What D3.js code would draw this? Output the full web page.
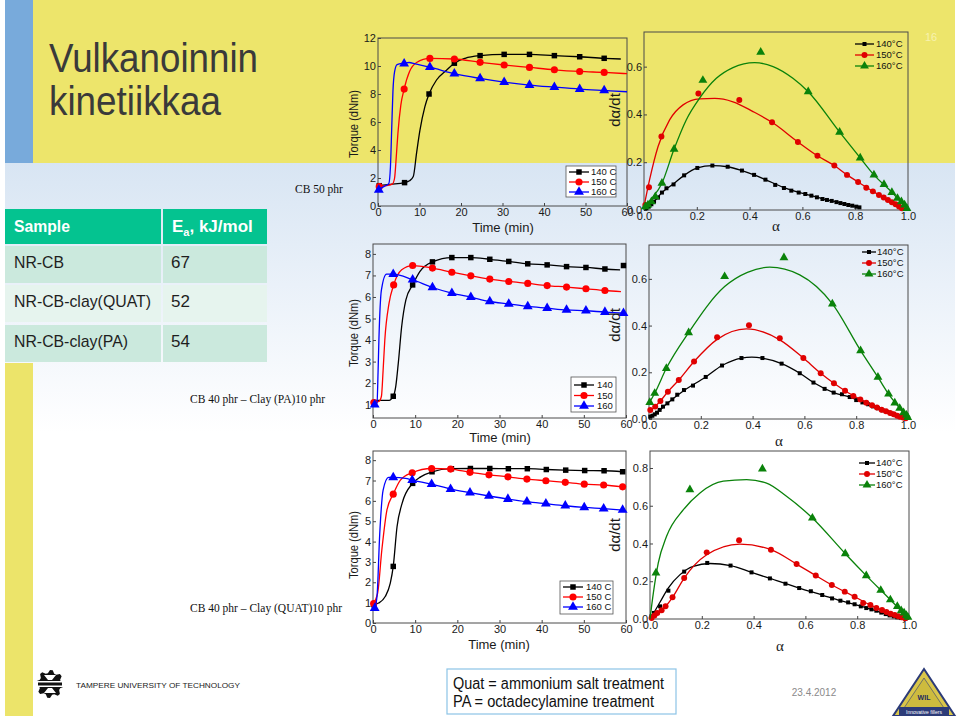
<!DOCTYPE html>
<html><head><meta charset="utf-8">
<script src="https://cdn.jsdelivr.net/npm/d3@7"></script>
<style>body{margin:0;background:#fff}svg{display:block}</style>
</head><body><svg id="s" width="960" height="716"></svg>
<script>
// ---------------- DATA ----------------
const titleLines = ["Vulkanoinnin", "kinetiikkaa"];
const tableSamples = ["NR-CB", "NR-CB-clay(QUAT)", "NR-CB-clay(PA)"];
const tableEa = ["67", "52", "54"];
const panelNotes = ["CB 50 phr", "CB 40 phr \u2013 Clay (PA)10 phr", "CB 40 phr \u2013 Clay (QUAT)10 phr"];
const footerNotes = ["Quat = ammonium salt treatment", "PA = octadecylamine treatment"];
const footerDate = "23.4.2012";
const pageNo = "16";

const timeTicks = [0, 10, 20, 30, 40, 50, 60];
const alphaTicks = [0, 0.2, 0.4, 0.6, 0.8, 1.0];
const torqueTicksCB50 = [0, 2, 4, 6, 8, 10, 12];
const torqueTicksPA = [1, 2, 3, 4, 5, 6, 7, 8];
const torqueTicksQUAT = [0, 1, 2, 3, 4, 5, 6, 7, 8];
const rateTicksCB50 = [0, 0.2, 0.4, 0.6];
const rateTicksPA = [0, 0.2, 0.4, 0.6];
const rateTicksQUAT = [0, 0.2, 0.4, 0.6, 0.8];
const torqueLegendCB50 = ["140 C", "150 C", "160 C"];
const torqueLegendPA = ["140", "150", "160"];
const torqueLegendQUAT = ["140 C", "150 C", "160 C"];
const rateLegend = ["140\u00B0C", "150\u00B0C", "160\u00B0C"];

// Torque vs time, CB 50 phr
const cb50T140Curve = [[0,1.45],[3,1.55],[6.4,1.67],[7.6,1.8],[8.5,2.1],[9.3,3.8],[10.1,5.4],[11.3,7.1],[12.3,8.0],[14.1,9.0],[16.5,9.7],[18.4,10.2],[21,10.55],[24.6,10.74],[30.4,10.83],[36.5,10.83],[42.5,10.74],[48.6,10.66],[54.5,10.55],[58.5,10.5]];
const cb50T140Pts = [[0.3,1.45],[6.4,1.67],[12.3,8.0],[18.4,10.2],[24.6,10.74],[30.4,10.83],[36.5,10.83],[42.5,10.74],[48.6,10.66],[54.5,10.55]];
const cb50T150Curve = [[0,1.38],[2,1.45],[3.5,1.58],[4.0,2.0],[4.4,3.5],[4.8,5.2],[5.5,7.2],[6.3,8.35],[7.6,9.6],[9.3,10.25],[12.5,10.54],[18.4,10.5],[24.6,10.26],[30.4,10.07],[36.5,9.9],[42.5,9.73],[48.6,9.61],[54.5,9.54],[60,9.45]];
const cb50T150Pts = [[0.3,1.38],[6.3,8.35],[12.5,10.54],[18.4,10.5],[24.6,10.26],[30.4,10.07],[36.5,9.9],[42.5,9.73],[48.6,9.61],[54.5,9.54]];
const cb50T160Curve = [[0,1.15],[1.5,1.4],[2.6,1.6],[3.0,2.8],[3.3,5.5],[3.6,8.2],[4.0,9.6],[4.6,10.1],[6.3,10.2],[7.5,10.25],[9,10.15],[12.5,9.92],[18.4,9.45],[24.6,9.11],[30.4,8.85],[36.5,8.64],[42.5,8.49],[48.6,8.35],[54.5,8.25],[60,8.16]];
const cb50T160Pts = [[0.2,1.15],[6.3,10.16],[12.5,9.92],[18.4,9.45],[24.6,9.11],[30.4,8.85],[36.5,8.64],[42.5,8.49],[48.6,8.35],[54.5,8.25]];

// Torque vs time, Clay (PA)
const paT140Curve = [[0,1.2],[3.8,1.2],[4.8,1.39],[5.4,1.85],[6.0,2.93],[6.8,4.63],[7.8,5.87],[9.4,6.56],[11.1,7.18],[14.1,7.63],[18.7,7.83],[23.2,7.83],[27.7,7.75],[32.2,7.65],[36.7,7.54],[41.3,7.49],[45.9,7.41],[50.5,7.37],[55.0,7.3],[58.6,7.26]];
const paT140Pts = [[4.8,1.39],[9.4,6.56],[14.1,7.63],[18.7,7.83],[23.2,7.83],[27.7,7.75],[32.2,7.65],[36.7,7.54],[41.3,7.49],[45.9,7.41],[50.5,7.37],[55.0,7.3],[59.4,7.46]];
const paT150Curve = [[0,1.1],[1.4,1.15],[2.0,1.39],[2.4,2.6],[2.8,4.0],[3.8,5.7],[4.9,6.56],[6.8,7.26],[9.4,7.46],[14.1,7.34],[18.7,7.15],[23.2,6.98],[27.7,6.83],[32.2,6.72],[36.7,6.63],[41.3,6.53],[45.9,6.46],[50.5,6.38],[55.0,6.3],[58.8,6.25]];
const paT150Pts = [[0.2,1.1],[4.9,6.56],[9.4,7.46],[14.1,7.34],[18.7,7.15],[23.2,6.98],[27.7,6.83],[32.2,6.72],[36.7,6.63],[41.3,6.53],[45.9,6.46],[50.5,6.38],[55.0,6.3]];
const paT160Curve = [[0,1.0],[0.95,1.08],[1.2,2.5],[1.4,4.0],[2.0,6.33],[3.2,7.06],[4.8,7.06],[9.4,6.8],[14.1,6.44],[18.7,6.18],[23.2,5.99],[27.7,5.79],[32.2,5.68],[36.7,5.56],[41.3,5.48],[45.9,5.40],[50.5,5.36],[55.0,5.30],[59.4,5.25]];
const paT160Pts = [[0.4,1.0],[4.8,7.06],[9.4,6.8],[14.1,6.44],[18.7,6.18],[23.2,5.99],[27.7,5.79],[32.2,5.68],[36.7,5.56],[41.3,5.48],[45.9,5.40],[50.5,5.36],[55.0,5.30],[59.4,5.25]];

// Torque vs time, Clay (QUAT)
const quatT140Curve = [[0,0.9],[1.35,0.98],[2.9,1.3],[4.1,1.96],[4.8,2.78],[5.7,4.73],[6.9,5.88],[9.4,6.86],[11.3,7.18],[14.0,7.43],[18.6,7.58],[23.1,7.59],[27.7,7.59],[32.1,7.58],[36.6,7.58],[41.1,7.54],[45.7,7.51],[50.2,7.49],[54.8,7.48],[59.2,7.43]];
const quatT140Pts = [[0.2,0.9],[4.8,2.78],[9.4,6.86],[14.0,7.43],[18.6,7.58],[23.1,7.59],[27.7,7.59],[32.1,7.58],[36.6,7.58],[41.1,7.54],[45.7,7.51],[50.2,7.49],[54.8,7.48],[59.2,7.43]];
const quatT150Curve = [[0,0.95],[1.1,1.47],[2.1,3.6],[3.3,5.55],[4.8,6.33],[6.5,7.02],[9.3,7.38],[13.9,7.59],[18.4,7.56],[23.0,7.4],[27.5,7.28],[32.0,7.18],[36.5,7.07],[41.0,6.99],[45.6,6.91],[50.1,6.82],[54.7,6.78],[59.2,6.69]];
const quatT150Pts = [[0.15,0.95],[4.8,6.33],[9.3,7.38],[13.9,7.59],[18.4,7.56],[23.0,7.4],[27.5,7.28],[32.0,7.18],[36.5,7.07],[41.0,6.99],[45.6,6.91],[50.1,6.82],[54.7,6.78],[59.2,6.69]];
const quatT160Curve = [[0.4,0.73],[0.95,1.31],[1.6,4.4],[2.4,6.53],[3.7,7.15],[4.8,7.15],[7.7,7.1],[9.3,7.02],[13.9,6.82],[18.4,6.58],[23.0,6.4],[27.5,6.24],[32.0,6.09],[36.5,5.96],[41.0,5.86],[45.6,5.76],[50.1,5.68],[54.7,5.62],[59.2,5.55]];
const quatT160Pts = [[0.4,0.73],[4.8,7.15],[9.3,7.02],[13.9,6.82],[18.4,6.58],[23.0,6.4],[27.5,6.24],[32.0,6.09],[36.5,5.96],[41.0,5.86],[45.6,5.76],[50.1,5.68],[54.7,5.62],[59.2,5.55]];

// dα/dt vs α, CB 50 phr
const cb50R140Pts = [[0.009,0.007],[0.018,0.014],[0.028,0.024],[0.038,0.035],[0.053,0.052],[0.068,0.073],[0.085,0.091],[0.112,0.107],[0.152,0.145],[0.202,0.176],[0.259,0.186],[0.317,0.181],[0.371,0.165],[0.417,0.147],[0.46,0.127],[0.497,0.105],[0.53,0.092],[0.558,0.081],[0.586,0.073],[0.611,0.067],[0.634,0.06],[0.655,0.053],[0.676,0.046],[0.693,0.042],[0.711,0.038],[0.729,0.033],[0.744,0.029],[0.759,0.025],[0.774,0.021],[0.789,0.018],[0.804,0.014],[0.816,0.011]];
const cb50R140Curve = [[0,0],[0.018,0.014],[0.038,0.035],[0.068,0.073],[0.112,0.11],[0.152,0.145],[0.202,0.176],[0.259,0.186],[0.317,0.181],[0.371,0.165],[0.417,0.147],[0.46,0.127],[0.53,0.094],[0.586,0.074],[0.634,0.06],[0.676,0.047],[0.729,0.034],[0.774,0.022],[0.816,0.011]];
const cb50R150Pts = [[0.005,0.021],[0.019,0.095],[0.066,0.308],[0.206,0.488],[0.361,0.46],[0.485,0.367],[0.583,0.285],[0.657,0.227],[0.721,0.186],[0.769,0.147],[0.811,0.117],[0.842,0.093],[0.867,0.078],[0.89,0.063],[0.908,0.052],[0.924,0.042],[0.939,0.032],[0.953,0.024],[0.966,0.015],[0.977,0.007]];
const cb50R150Curve = [[0,0.014],[0.021,0.126],[0.053,0.265],[0.097,0.377],[0.148,0.44],[0.211,0.465],[0.268,0.467],[0.337,0.453],[0.413,0.412],[0.485,0.367],[0.583,0.285],[0.657,0.227],[0.721,0.186],[0.769,0.147],[0.811,0.117],[0.867,0.078],[0.924,0.042],[0.966,0.015],[0.987,0]];
const cb50R160Pts = [[0.005,0.014],[0.015,0.021],[0.028,0.035],[0.043,0.056],[0.068,0.112],[0.114,0.255],[0.223,0.543],[0.442,0.661],[0.622,0.495],[0.741,0.326],[0.819,0.218],[0.871,0.147],[0.909,0.107],[0.939,0.074],[0.96,0.049],[0.975,0.035],[0.987,0.021],[0.996,0.007]];
const cb50R160Curve = [[0,0],[0.021,0.035],[0.068,0.112],[0.114,0.255],[0.16,0.377],[0.21,0.467],[0.274,0.551],[0.337,0.596],[0.419,0.617],[0.489,0.6],[0.564,0.551],[0.622,0.495],[0.741,0.326],[0.819,0.218],[0.871,0.147],[0.939,0.074],[1.0,0]];

// dα/dt vs α, Clay (PA)
const paR140Pts = [[0.005,0.01],[0.013,0.014],[0.022,0.02],[0.031,0.027],[0.041,0.039],[0.054,0.053],[0.071,0.067],[0.09,0.084],[0.109,0.104],[0.135,0.124],[0.17,0.143],[0.219,0.18],[0.282,0.229],[0.357,0.261],[0.438,0.261],[0.512,0.237],[0.582,0.196],[0.635,0.156],[0.678,0.129],[0.713,0.113],[0.745,0.106],[0.775,0.094],[0.8,0.081],[0.824,0.071],[0.846,0.063],[0.865,0.054],[0.884,0.046],[0.902,0.037],[0.92,0.03],[0.937,0.023],[0.952,0.017],[0.968,0.013],[0.981,0.009],[0.994,0.004]];
const paR140Curve = [[0,0.005],[0.031,0.027],[0.071,0.067],[0.135,0.122],[0.219,0.18],[0.282,0.229],[0.357,0.261],[0.397,0.265],[0.438,0.261],[0.512,0.237],[0.582,0.196],[0.635,0.156],[0.713,0.113],[0.775,0.094],[0.846,0.063],[0.902,0.037],[0.952,0.017],[1.0,0]];
const paR150Pts = [[0.005,0.039],[0.024,0.053],[0.044,0.077],[0.073,0.117],[0.115,0.167],[0.174,0.246],[0.263,0.35],[0.386,0.401],[0.505,0.346],[0.596,0.261],[0.663,0.196],[0.714,0.153],[0.757,0.121],[0.789,0.099],[0.816,0.084],[0.839,0.07],[0.861,0.059],[0.88,0.049],[0.898,0.04],[0.915,0.033],[0.931,0.026],[0.945,0.02],[0.958,0.014],[0.969,0.01],[0.981,0.006],[0.991,0.003]];
const paR150Curve = [[0,0.03],[0.044,0.077],[0.073,0.117],[0.115,0.167],[0.174,0.246],[0.263,0.341],[0.376,0.386],[0.505,0.339],[0.596,0.261],[0.663,0.196],[0.714,0.153],[0.757,0.121],[0.816,0.084],[0.861,0.059],[0.915,0.033],[0.958,0.014],[1.0,0]];
const paR160Pts = [[0.003,0.071],[0.022,0.11],[0.067,0.217],[0.153,0.37],[0.292,0.61],[0.521,0.691],[0.708,0.493],[0.817,0.293],[0.884,0.179],[0.925,0.107],[0.949,0.069],[0.968,0.046],[0.983,0.027],[0.994,0.017],[0.999,0.007]];
const paR160Curve = [[0,0.067],[0.022,0.11],[0.067,0.217],[0.153,0.37],[0.292,0.567],[0.38,0.628],[0.466,0.65],[0.582,0.617],[0.708,0.493],[0.817,0.293],[0.884,0.179],[0.925,0.107],[0.968,0.046],[1.0,0]];

// dα/dt vs α, Clay (QUAT)
const quatR140Pts = [[0.006,0.014],[0.015,0.032],[0.039,0.067],[0.071,0.15],[0.132,0.251],[0.221,0.297],[0.311,0.283],[0.392,0.247],[0.463,0.215],[0.523,0.187],[0.576,0.164],[0.621,0.147],[0.665,0.127],[0.703,0.109],[0.735,0.097],[0.765,0.088],[0.79,0.078],[0.814,0.067],[0.835,0.058],[0.855,0.051],[0.874,0.044],[0.893,0.034],[0.91,0.026],[0.925,0.019],[0.941,0.014],[0.955,0.009],[0.97,0.005],[0.987,0.002]];
const quatR140Curve = [[0,0],[0.02,0.045],[0.039,0.09],[0.071,0.165],[0.116,0.235],[0.167,0.279],[0.231,0.294],[0.311,0.283],[0.392,0.247],[0.463,0.215],[0.576,0.164],[0.665,0.127],[0.735,0.097],[0.79,0.078],[0.855,0.051],[0.91,0.026],[0.955,0.009],[1.0,0]];
const quatR150Pts = [[0.006,0.005],[0.017,0.018],[0.028,0.032],[0.045,0.046],[0.06,0.067],[0.087,0.115],[0.132,0.217],[0.219,0.353],[0.344,0.417],[0.467,0.367],[0.566,0.291],[0.64,0.23],[0.702,0.18],[0.752,0.145],[0.79,0.118],[0.823,0.085],[0.851,0.074],[0.874,0.058],[0.896,0.048],[0.913,0.037],[0.929,0.028],[0.945,0.021],[0.959,0.014],[0.972,0.009],[0.985,0.004]];
const quatR150Curve = [[0,0],[0.028,0.032],[0.06,0.067],[0.087,0.115],[0.132,0.217],[0.219,0.34],[0.347,0.397],[0.467,0.367],[0.566,0.291],[0.64,0.23],[0.702,0.18],[0.752,0.145],[0.79,0.118],[0.851,0.074],[0.896,0.048],[0.945,0.021],[1.0,0]];
const quatR160Pts = [[0.023,0.244],[0.154,0.685],[0.434,0.795],[0.627,0.535],[0.754,0.346],[0.835,0.23],[0.891,0.152],[0.928,0.102],[0.955,0.067],[0.97,0.044],[0.981,0.032],[0.99,0.019],[0.996,0.009]];
const quatR160Curve = [[0,0],[0.013,0.138],[0.032,0.297],[0.064,0.438],[0.129,0.579],[0.193,0.668],[0.283,0.73],[0.373,0.738],[0.45,0.72],[0.527,0.65],[0.627,0.535],[0.754,0.346],[0.835,0.23],[0.928,0.102],[1.0,0]];

// ---------------- DRAWING ----------------
const svg = d3.select("#s");
const NARROW = "'Liberation Sans Narrow','Arial Narrow','Liberation Sans',Arial,sans-serif";
const SANS = "'Liberation Sans',Arial,Helvetica,sans-serif";
const SERIF = "'Liberation Serif','Times New Roman',serif";

const defs = svg.append("defs");
const gr = defs.append("linearGradient").attr("id","bgfade").attr("x1",0).attr("y1",0).attr("x2",0).attr("y2",1);
gr.append("stop").attr("offset",0).attr("stop-color","#d8e5f3");
gr.append("stop").attr("offset",0.45).attr("stop-color","#eaf1f9");
gr.append("stop").attr("offset",1).attr("stop-color","#ffffff");

svg.append("rect").attr("width",960).attr("height",716).attr("fill","#fff");
svg.append("rect").attr("x",5).attr("y",163).attr("width",950).attr("height",270).attr("fill","url(#bgfade)");
svg.append("rect").attr("x",5).attr("y",0).attr("width",950).attr("height",163).attr("fill","#ede56b");
svg.append("rect").attr("x",5).attr("y",0).attr("width",28).attr("height",163).attr("fill","#78aadb");
svg.append("rect").attr("x",5).attr("y",363).attr("width",28).attr("height",353).attr("fill","#ece46a");

// Title
const titleY = [72, 115], titleW = [209, 172];
titleLines.forEach((t,i) => svg.append("text").attr("x",49).attr("y",titleY[i])
  .attr("font-family",SANS).attr("font-size",41).attr("fill","#3a3a3a")
  .attr("textLength",titleW[i]).attr("lengthAdjust","spacingAndGlyphs").text(t));

svg.append("text").attr("x",925).attr("y",41).attr("font-family",SANS).attr("font-size",11)
  .attr("fill","#f7f2b0").text(pageNo);

// Table
svg.append("rect").attr("x",5).attr("y",209).attr("width",156).attr("height",35).attr("fill","#04c390");
svg.append("rect").attr("x",163).attr("y",209).attr("width",104).attr("height",35).attr("fill","#04c390");
svg.append("text").attr("x",14).attr("y",232).attr("font-family",SANS).attr("font-weight","bold")
  .attr("font-size",17).attr("fill","#fff").attr("textLength",56).attr("lengthAdjust","spacingAndGlyphs").text("Sample");
const eh = svg.append("text").attr("x",172).attr("y",232).attr("font-family",SANS).attr("font-weight","bold")
  .attr("font-size",17).attr("fill","#fff");
eh.append("tspan").text("E");
eh.append("tspan").attr("font-size",11).attr("dy",4).text("a");
eh.append("tspan").attr("dy",-4).text(", kJ/mol");
const rowY = [246, 285, 325], rowFill = ["#cbe9dd", "#e6f4ee", "#cbe9dd"], rowW = [50, 137, 114];
tableSamples.forEach((s,i) => {
  svg.append("rect").attr("x",5).attr("y",rowY[i]).attr("width",156).attr("height",37).attr("fill",rowFill[i]);
  svg.append("rect").attr("x",163).attr("y",rowY[i]).attr("width",104).attr("height",37).attr("fill",rowFill[i]);
  svg.append("text").attr("x",14).attr("y",rowY[i]+22).attr("font-family",SANS).attr("font-size",17)
    .attr("fill","#1e1e1e").attr("textLength",rowW[i]).attr("lengthAdjust","spacingAndGlyphs").text(s);
  svg.append("text").attr("x",171).attr("y",rowY[i]+22).attr("font-family",SANS).attr("font-size",17)
    .attr("fill","#1e1e1e").text(tableEa[i]);
});

// Panel notes
const noteX = [295, 190, 190], noteY = [193, 403, 612];
panelNotes.forEach((t,i) => svg.append("text").attr("x",noteX[i]).attr("y",noteY[i])
  .attr("font-family",SERIF).attr("font-size",11.5).attr("fill","#111").text(t));

const torqueStyles = [
  {color:"#000000", sym:d3.symbolSquare, size:30},
  {color:"#ff0000", sym:d3.symbolCircle, size:40},
  {color:"#0000ff", sym:d3.symbolTriangle, size:42}];
const rateStyles = [
  {color:"#000000", sym:d3.symbolSquare, size:16},
  {color:"#e00000", sym:d3.symbolCircle, size:28},
  {color:"#0a820a", sym:d3.symbolTriangle, size:34}];

function styleAxis(g, fs) {
  g.select(".domain").remove();
  g.selectAll(".tick line").attr("stroke","#444");
  g.selectAll(".tick text").attr("font-family",NARROW).attr("font-size",fs).attr("fill","#1a1a1a");
}

function drawChart(c) {
  const x = d3.scaleLinear().domain(c.xd).range([c.x0, c.x1]);
  const y = d3.scaleLinear().domain(c.yd).range([c.y1, c.y0]);
  const g = svg.append("g");
  g.append("rect").attr("x",c.x0).attr("y",c.y0).attr("width",c.x1-c.x0).attr("height",c.y1-c.y0)
    .attr("fill","none").attr("stroke","#4a4a4a").attr("stroke-width",1);
  const ax = g.append("g").attr("transform",`translate(0,${c.y1})`)
    .call(d3.axisBottom(x).tickValues(c.xt).tickSize(-3).tickPadding(c.xpad).tickFormat(c.xf));
  styleAxis(ax, 11);
  const ay = g.append("g").attr("transform",`translate(${c.x0},0)`)
    .call(d3.axisLeft(y).tickValues(c.yt).tickSize(-3).tickPadding(c.ypad).tickFormat(c.yf));
  styleAxis(ay, 11);
  const line = d3.line().x(d => x(d[0])).y(d => y(d[1])).curve(d3.curveMonotoneX);
  c.series.forEach((s,i) => {
    const st = c.styles[i];
    g.append("path").attr("d", line(s.curve)).attr("fill","none").attr("stroke",st.color).attr("stroke-width",1.3);
    g.selectAll(null).data(s.pts).enter().append("path")
      .attr("transform", d => `translate(${x(d[0])},${y(d[1])})`)
      .attr("d", d3.symbol().type(st.sym).size(st.size)).attr("fill",st.color);
  });
  // legend
  const L = c.legend;
  if (L.box) g.append("rect").attr("x",L.box[0]).attr("y",L.box[1]).attr("width",L.box[2]).attr("height",L.box[3])
    .attr("fill","#fff").attr("stroke","#555").attr("stroke-width",0.8);
  L.labels.forEach((lab,i) => {
    const st = c.styles[i], yy = L.ys[i];
    g.append("line").attr("x1",L.lx[0]).attr("x2",L.lx[1]).attr("y1",yy).attr("y2",yy).attr("stroke",st.color).attr("stroke-width",1.3);
    g.append("path").attr("transform",`translate(${(L.lx[0]+L.lx[1])/2},${yy})`)
      .attr("d", d3.symbol().type(st.sym).size(st.size)).attr("fill",st.color);
    g.append("text").attr("x",L.tx).attr("y",yy).attr("dy","0.35em").attr("font-family",NARROW)
      .attr("font-size",L.fs).attr("fill","#111").text(lab);
  });
  // axis titles
  g.append("text").attr("x",c.xlab[0]).attr("y",c.xlab[1]).attr("text-anchor","middle")
    .attr("font-family",c.xlabFont).attr("font-size",c.xlabSize).attr("fill","#1a1a1a").text(c.xlabText);
  const yl = g.append("text").attr("transform",`translate(${c.ylab[0]},${c.ylab[1]}) rotate(-90)`)
    .attr("text-anchor","middle").attr("font-family",NARROW).attr("font-size",c.ylabSize).attr("fill","#1a1a1a");
  if (c.ylabLen) yl.attr("textLength",c.ylabLen).attr("lengthAdjust","spacingAndGlyphs");
  yl.text(c.ylabText);
}

const fInt = d3.format("d"), f1 = d3.format(".1f");

function torque(x0,x1,y0,y1,yd,yt,series,legend,xlab,ylab) {
  drawChart({x0,x1,y0,y1,xd:[0,60],yd,xt:timeTicks,yt,xf:fInt,yf:fInt,xpad:2,ypad:2,
    series,styles:torqueStyles,legend,xlab,xlabText:"Time (min)",xlabFont:NARROW,xlabSize:13,
    ylab,ylabText:"Torque (dNm)",ylabSize:12.5,ylabLen:68});
}
function rate(x0,x1,y0,y1,yd,yt,series,legend,xlab,ylab) {
  drawChart({x0,x1,y0,y1,xd:[0,1],yd,xt:alphaTicks,yt,xf:f1,yf:f1,xpad:2,ypad:2,
    series,styles:rateStyles,legend,xlab,xlabText:"\u03B1",xlabFont:SERIF,xlabSize:15,
    ylab,ylabText:"d\u03B1/dt",ylabSize:15});
}

// Row 1: CB 50 phr
torque(378,627,38,206,[0,12],torqueTicksCB50,
  [{curve:cb50T140Curve,pts:cb50T140Pts},{curve:cb50T150Curve,pts:cb50T150Pts},{curve:cb50T160Curve,pts:cb50T160Pts}],
  {box:[566,166,50,31],lx:[569,589],tx:591,ys:[172,182,192],labels:torqueLegendCB50,fs:9.5},
  [503,232],[358,124]);
rate(644,908,32,210,[0,0.745],rateTicksCB50,
  [{curve:cb50R140Curve,pts:cb50R140Pts},{curve:cb50R150Curve,pts:cb50R150Pts},{curve:cb50R160Curve,pts:cb50R160Pts}],
  {lx:[855,874],tx:876,ys:[44,55,66],labels:rateLegend,fs:9.5},
  [776,231],[620,110]);

// Row 2: Clay (PA)
torque(373,626,244,418,[0.38,8.46],torqueTicksPA,
  [{curve:paT140Curve,pts:paT140Pts},{curve:paT150Curve,pts:paT150Pts},{curve:paT160Curve,pts:paT160Pts}],
  {box:[571,377,45,35],lx:[574,594],tx:597,ys:[385,395.5,406],labels:torqueLegendPA,fs:9.5},
  [500,442],[358,333]);
rate(649,908,245,419,[0,0.745],rateTicksPA,
  [{curve:paR140Curve,pts:paR140Pts},{curve:paR150Curve,pts:paR150Pts},{curve:paR160Curve,pts:paR160Pts}],
  {lx:[862,876],tx:877,ys:[252,263,274],labels:rateLegend,fs:9.5},
  [779,446],[620,325]);

// Row 3: Clay (QUAT)
torque(373,626,451,623,[0,8.45],torqueTicksQUAT,
  [{curve:quatT140Curve,pts:quatT140Pts},{curve:quatT150Curve,pts:quatT150Pts},{curve:quatT160Curve,pts:quatT160Pts}],
  {box:[560,581,53,33],lx:[563,583],tx:586,ys:[587,597,607],labels:torqueLegendQUAT,fs:9.5},
  [499,649],[358,545]);
rate(650,909,451,619,[0,0.89],rateTicksQUAT,
  [{curve:quatR140Curve,pts:quatR140Pts},{curve:quatR150Curve,pts:quatR150Pts},{curve:quatR160Curve,pts:quatR160Pts}],
  {lx:[859,875],tx:876,ys:[463,474,485],labels:rateLegend,fs:9.5},
  [780,651],[620,535]);

// Footer
const tut = svg.append("g").attr("transform","translate(50,684)");
const gearPts = [];
for (let k = 0; k < 32; k++) {
  const a = k/32*2*Math.PI, r = (Math.floor(k/2)%2===0) ? 14 : 11;
  gearPts.push([r*Math.cos(a), r*Math.sin(a)]);
}
tut.append("path").attr("d", d3.line().curve(d3.curveLinearClosed)(gearPts)).attr("fill","#111");
tut.append("rect").attr("x",-15).attr("y",-3).attr("width",30).attr("height",6).attr("fill","#fff");
tut.append("rect").attr("x",-12).attr("y",-1.5).attr("width",24).attr("height",3).attr("fill","#111");
tut.append("path").attr("d","M-6,-9 L6,-9 L2,-4 L-2,-4 Z M-6,9 L6,9 L2,4 L-2,4 Z").attr("fill","#fff");
svg.append("text").attr("x",76).attr("y",688).attr("font-family",SANS).attr("font-size",8)
  .attr("fill","#222").attr("textLength",164).attr("lengthAdjust","spacingAndGlyphs")
  .text("TAMPERE UNIVERSITY OF TECHNOLOGY");

svg.append("rect").attr("x",447).attr("y",669).attr("width",229).attr("height",45)
  .attr("fill","#fff").attr("stroke","#8cc4e6").attr("stroke-width",1.2);
const fy = [689, 707], fw = [211, 201];
footerNotes.forEach((t,i) => svg.append("text").attr("x",453).attr("y",fy[i]).attr("font-family",NARROW)
  .attr("font-size",16).attr("fill","#111").attr("textLength",fw[i]).attr("lengthAdjust","spacingAndGlyphs").text(t));
svg.append("text").attr("x",814).attr("y",696).attr("text-anchor","middle").attr("font-family",SANS)
  .attr("font-size",10).attr("fill","#8a8a8a").text(footerDate);

const wl = svg.append("g");
wl.append("path").attr("d","M924,669 L955,716 L893,716 Z").attr("fill","#d9c64a").attr("stroke","#2c3b78").attr("stroke-width",2);
wl.append("path").attr("d","M924,678 L946,711 L902,711 Z").attr("fill","#cdbb3e").attr("stroke","#2c3b78").attr("stroke-width",0.6);
wl.append("rect").attr("x",899).attr("y",707).attr("width",50).attr("height",8).attr("fill","#2c3b78");
wl.append("text").attr("x",924).attr("y",700).attr("text-anchor","middle").attr("font-family",SANS)
  .attr("font-weight","bold").attr("font-size",7).attr("fill","#1e2a60").text("WIL");
wl.append("text").attr("x",924).attr("y",713.5).attr("text-anchor","middle").attr("font-family",SANS)
  .attr("font-size",5).attr("fill","#fff").text("Innovative fillers");
</script></body></html>
